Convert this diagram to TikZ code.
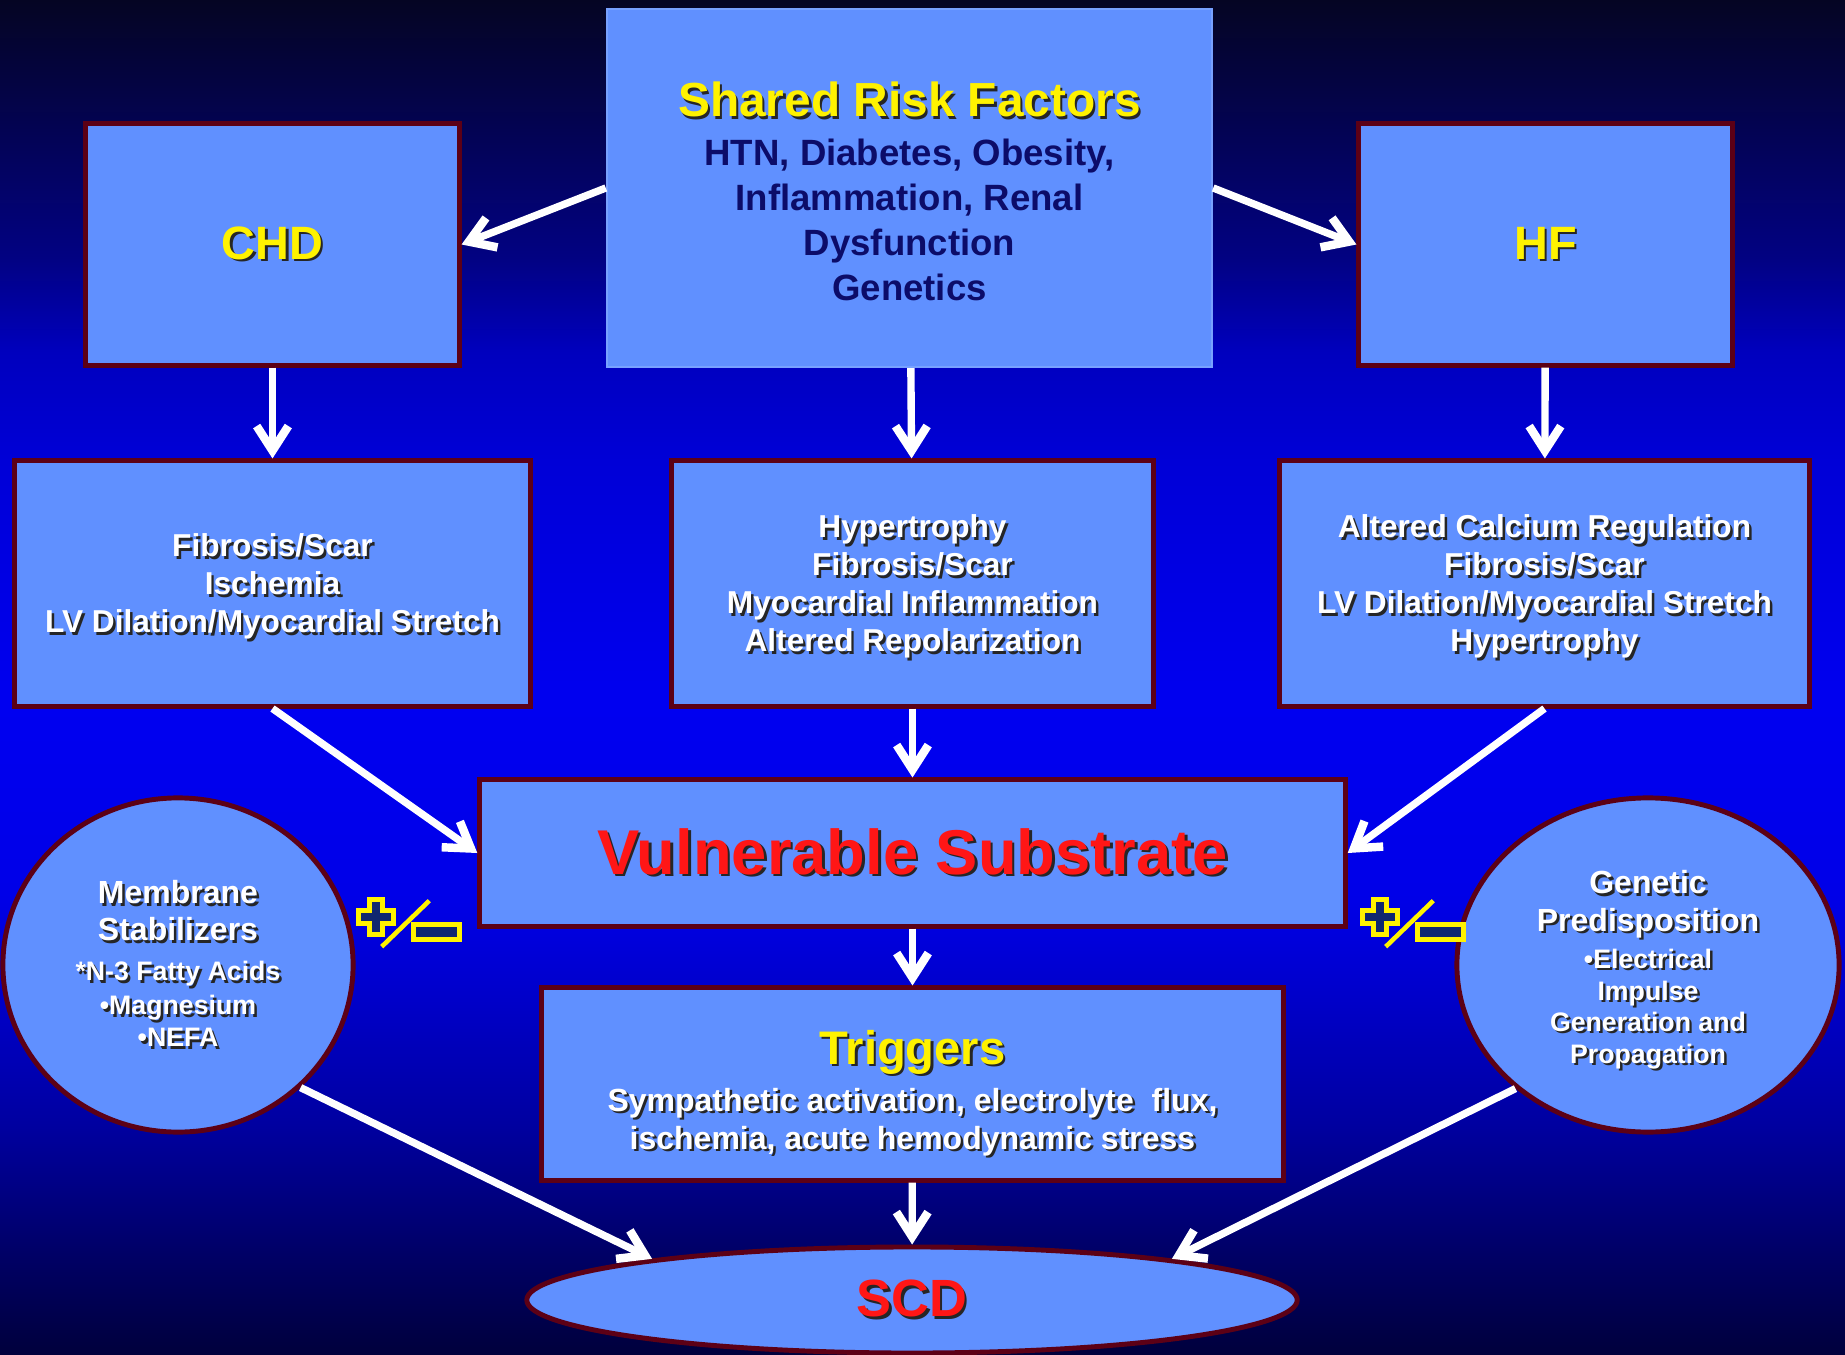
\documentclass[tikz,border=0pt]{standalone}
\usepackage{fontspec}
\setmainfont{Liberation Sans}
\usetikzlibrary{arrows.meta,shapes.geometric}

\definecolor{boxfill}{RGB}{96,144,255}
\definecolor{boxline}{RGB}{92,0,22}
\definecolor{navytext}{RGB}{12,12,105}
\definecolor{pmnavy}{RGB}{16,40,112}
\definecolor{vsred}{RGB}{255,22,22}
\definecolor{bga}{RGB}{5,5,35}
\definecolor{bgb}{RGB}{3,3,90}
\definecolor{bgc}{RGB}{2,2,130}
\definecolor{bgd}{RGB}{0,0,190}
\definecolor{bge}{RGB}{0,0,215}
\definecolor{bgf}{RGB}{0,0,240}
\definecolor{bgg}{RGB}{0,0,232}
\definecolor{bgh}{RGB}{0,0,200}
\definecolor{bgi}{RGB}{0,0,160}
\definecolor{bgj}{RGB}{0,0,105}
\definecolor{bgk}{RGB}{0,0,60}
% the picture fills the inner 25bp..75bp of a shading
\pgfdeclareverticalshading{bgshade}{100bp}{color(0bp)=(bgk); color(25bp)=(bgk); color(29bp)=(bgj); color(33.5bp)=(bgi); color(38bp)=(bgh); color(42bp)=(bgg); color(49bp)=(bgf); color(58bp)=(bge); color(62bp)=(bgd); color(65.5bp)=(bgc); color(69.5bp)=(bgb); color(75bp)=(bga); color(100bp)=(bga)}

% text with a drop shadow
\newcommand{\sh}[1]{\leavevmode\rlap{\kern0.7pt\raisebox{-0.7pt}{\textcolor{black!85}{#1}}}#1}
\newcommand{\sm}[1]{{\fontsize{7.6}{9}\selectfont\sh{#1}}}

\tikzset{
  bluebox/.style={draw=boxline, line width=1.4pt, fill=boxfill, inner sep=0pt, align=center},
  blueoval/.style={bluebox, ellipse},
  midtext/.style={text=white, font=\bfseries\fontsize{9}{10.8}\selectfont},
  arr/.style={draw=white, line width=2.1pt,
    -{Straight Barb[length=7pt,width=9pt,line width=2.4pt]}},
  plusminus/.pic={
    \filldraw[draw=yellow, fill=pmnavy, line width=1.5pt] (-6.3,-17.3) -- (6.3,-17.3) -- (6.3,-6.3) -- (17.3,-6.3) -- (17.3,6.3) -- (6.3,6.3) -- (6.3,17.3) -- (-6.3,17.3) -- (-6.3,6.3) -- (-17.3,6.3) -- (-17.3,-6.3) -- (-6.3,-6.3) -- cycle;
    \draw[yellow, line width=1.3pt] (5.7,29.7) -- (53.3,-16.3);
    \filldraw[draw=yellow, fill=pmnavy, line width=1.5pt] (37.6,7.6) rectangle (83.4,22.4);
  }
}

\begin{document}
\begin{tikzpicture}[x=0.01cm, y=-0.01cm]
  \useasboundingbox (0,0) rectangle (1845,1355);
  \shade[shading=bgshade] (0,0) rectangle (1845,1355);

  % top row
  \node[bluebox, draw=boxfill!85!white, line width=0.6pt, minimum width=6.05cm, minimum height=3.58cm,
    text=navytext, font=\bfseries\fontsize{10.4}{12.8}\selectfont] (srf) at (909.5,188)
    {\rule{0pt}{12pt}{\color{yellow}\fontsize{13.6}{16}\selectfont\sh{Shared Risk Factors}}\\[1.1pt]
     HTN, Diabetes, Obesity,\\ Inflammation, Renal\\ Dysfunction\\ Genetics};
  \node[bluebox, minimum width=3.73cm, minimum height=2.41cm, text=yellow,
    font=\bfseries\fontsize{13.3}{16}\selectfont] (chd) at (272.5,244.5) {\sh{CHD}};
  \node[bluebox, minimum width=3.73cm, minimum height=2.41cm, text=yellow,
    font=\bfseries\fontsize{13.3}{16}\selectfont] (hf) at (1545.5,244.5) {\sh{HF}};

  % middle row
  \node[bluebox, midtext, minimum width=5.15cm, minimum height=2.45cm] (mleft) at (272.5,583.5)
    {\rule{0pt}{9pt}\sh{Fibrosis/Scar}\\ \sh{Ischemia}\\ \sh{LV Dilation/Myocardial Stretch}};
  \node[bluebox, midtext, minimum width=4.81cm, minimum height=2.45cm] (mmid) at (912.5,583.5)
    {\rule{0pt}{9pt}\sh{Hypertrophy}\\ \sh{Fibrosis/Scar}\\ \sh{Myocardial Inflammation}\\ \sh{Altered Repolarization}};
  \node[bluebox, midtext, minimum width=5.29cm, minimum height=2.45cm] (mright) at (1544.5,583.5)
    {\rule{0pt}{9pt}\sh{Altered Calcium Regulation}\\ \sh{Fibrosis/Scar}\\ \sh{LV Dilation/Myocardial Stretch}\\ \sh{Hypertrophy}};

  \node[bluebox, minimum width=8.65cm, minimum height=1.46cm, text=vsred,
    font=\bfseries\fontsize{18}{21}\selectfont] (vs) at (912.5,853) {\sh{Vulnerable Substrate}};

  \node[blueoval, midtext, font=\bfseries\fontsize{9.1}{10.5}\selectfont, minimum width=3.5cm, minimum height=3.34cm] (lcirc) at (178,965)
    {\sh{Membrane}\\ \sh{Stabilizers}\\[0.9pt] \sm{*N-3 Fatty Acids}\\[-0.8pt] \sm{•Magnesium}\\[-1.4pt] \sm{•NEFA}};
  \node[blueoval, midtext, font=\bfseries\fontsize{9.1}{10.7}\selectfont, minimum width=3.82cm, minimum height=3.34cm] (rcirc) at (1648,965)
    {\rule{0pt}{10pt}\sh{Genetic}\\ \sh{Predisposition}\\[-0.2pt] \sm{•Electrical}\\[-1.6pt] \sm{Impulse}\\[-1.9pt] \sm{Generation and}\\[-1.6pt] \sm{Propagation}};

  \pic at (376,917) {plusminus};
  \pic at (1380,917) {plusminus};

  % bottom
  \node[bluebox, midtext, font=\bfseries\fontsize{9.1}{10.8}\selectfont, minimum width=7.41cm, minimum height=1.92cm] (trig) at (912.5,1084)
    {\rule{0pt}{15.5pt}{\color{yellow}\fontsize{13.4}{16}\selectfont\sh{Triggers}}\\[2.6pt]
     \sh{Sympathetic activation, electrolyte\ \ flux,}\\ \sh{ischemia, acute hemodynamic stress}};
  \node[blueoval, minimum width=7.7cm, minimum height=1.06cm, text=vsred,
    font=\bfseries\fontsize{14.9}{18}\selectfont] (scd) at (912,1300) {\sh{SCD}};

  % arrows
  \draw[arr] (srf.west) -- (chd.east);
  \draw[arr] (srf.east) -- (hf.west);
  \draw[arr] (chd) -- (mleft);
  \draw[arr] (srf) -- (mmid);
  \draw[arr] (hf) -- (mright);
  \draw[arr] (mleft.south) -- (vs.west);
  \draw[arr] (mmid) -- (vs);
  \draw[arr] (mright.south) -- (vs.east);
  \draw[arr] (vs) -- (trig);
  \draw[arr] (trig) -- (scd);
  \draw[arr] (lcirc.-45) -- (scd.171);
  \draw[arr] (rcirc.-137) -- (scd.9);
\end{tikzpicture}
\end{document}
